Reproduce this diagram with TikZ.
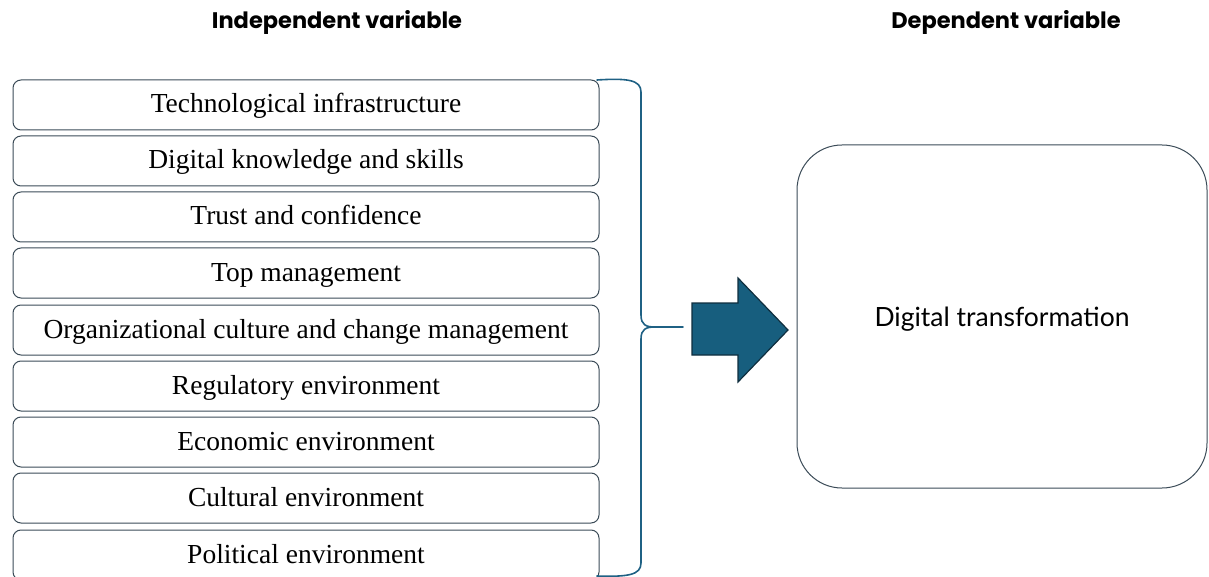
\documentclass[tikz,border=0pt]{standalone}
\usepackage{fontspec}
\setmainfont{Liberation Serif}
\newfontfamily\headfont{Poppins}
\newfontfamily\boxsans{Lato}
\begin{document}
\begin{tikzpicture}[x=1pt,y=-1pt,
  factor/.style={draw=framegray,line width=1pt,rounded corners=8pt,
    minimum width=586pt,minimum height=50pt,inner sep=0pt,
    text height=20pt,text depth=4pt,
    font=\fontsize{27.5}{30}\selectfont},
  heading/.style={font=\headfont\bfseries\fontsize{22.5}{26}\selectfont},
  outcome/.style={draw=framegray,line width=1pt,rounded corners=45pt,
    minimum width=410pt,minimum height=343pt,inner sep=0pt,
    text height=24pt,text depth=5pt,
    font=\boxsans\fontsize{26.5}{30}\selectfont},
  bracecol/.style={draw=braceblue,line width=1.6pt},
]
\definecolor{framegray}{HTML}{3B4B57}
\definecolor{braceblue}{HTML}{1F6184}
\definecolor{arrowfill}{HTML}{175E7E}
\definecolor{arrowline}{HTML}{0F2E3E}
\useasboundingbox (0,0) rectangle (1209,577);

% column headings
\node[heading] (hin) at (337,22) {Independent variable};
\node[heading] (hdep) at (1006,22) {Dependent variable};

% independent variables
\node[factor] (f1) at (306,105) {Technological infrastructure};
\node[factor] (f2) at (306,161) {Digital knowledge and skills};
\node[factor] (f3) at (306,217) {Trust and confidence};
\node[factor] (f4) at (306,273) {Top management};
\node[factor] (f5) at (306,330) {Organizational culture and change management};
\node[factor] (f6) at (306,386) {Regulatory environment};
\node[factor] (f7) at (306,442) {Economic environment};
\node[factor] (f8) at (306,498) {Cultural environment};
\node[factor] (f9) at (306,555) {Political environment};

% dependent variable
\node[outcome] (dt) at (1002,316.5) {Digital transformation};

% brace grouping the factors
\coordinate (btop) at (597,80);
\coordinate (bbot) at (597,576);
\coordinate (btip) at (683,327);
\draw[bracecol,line cap=round]
  (btop) .. controls (628,78) and (641,80) .. (641,92)
  -- (641,315) .. controls (641,325) and (646,327) .. (655,327)
  -- (btip);
\draw[bracecol,line cap=round]
  (655,327) .. controls (646,327) and (641,329) .. (641,339)
  -- (641,563) .. controls (641,575) and (628,577) .. (bbot);

% block arrow towards the outcome
\draw[fill=arrowfill,draw=arrowline,line width=1.2pt,line join=miter]
  (692,303) -- (738,303) -- (738,278) -- (788,330) -- (738,382)
  -- (738,355) -- (692,355) -- cycle;
\end{tikzpicture}
\end{document}
